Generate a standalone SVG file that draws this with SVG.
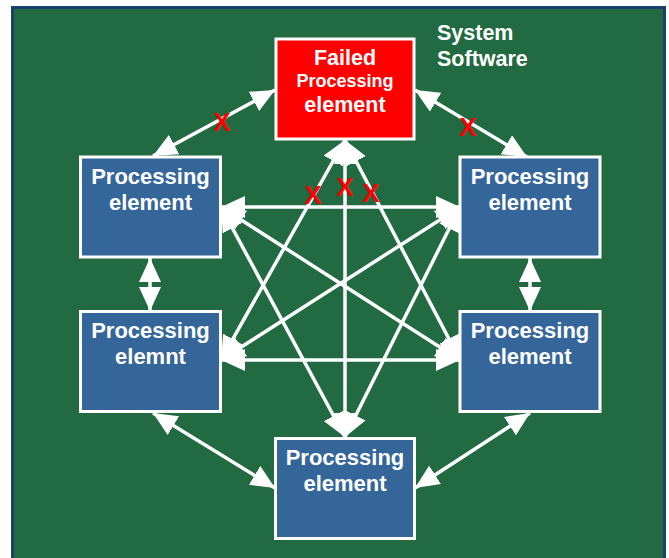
<svg xmlns="http://www.w3.org/2000/svg" width="669" height="558" viewBox="0 0 669 558">
  <style>
    .frame { fill: #226b42; stroke: #1b3f6f; stroke-width: 3; }
    .box { fill: #346699; stroke: #ffffff; stroke-width: 3; }
    .failed { fill: #ff0000; stroke: #ffffff; stroke-width: 3; }
    .lbl { font-family: "Liberation Sans", Arial, sans-serif; font-weight: bold; font-size: 22px; fill: #ffffff; text-anchor: middle; }
    .big { font-size: 21.5px; }
    .small { font-size: 18px; }
    .title { font-family: "Liberation Sans", Arial, sans-serif; font-weight: bold; font-size: 21.5px; fill: #ffffff; }
    .link { stroke: #ffffff; stroke-width: 3.5; fill: none; marker-start: url(#head); marker-end: url(#head); }
    .cut { font-family: "Liberation Sans", Arial, sans-serif; font-weight: bold; font-size: 26px; fill: #ff0000; text-anchor: middle; }
  </style>
  <defs>
    <marker id="head" viewBox="0 0 24 22" refX="24" refY="11" markerWidth="24" markerHeight="22" markerUnits="userSpaceOnUse" orient="auto-start-reverse">
      <path d="M0,0 L24,11 L0,22 Z" fill="#ffffff"/>
    </marker>
  </defs>

  <!-- background panel -->
  <rect class="frame" x="12.5" y="7.5" width="652" height="560"/>

  <text class="title" x="437" y="40">System</text>
  <text class="title" x="437" y="66">Software</text>

  <!-- connectors -->
  <g id="connectors">
    <!-- outer ring -->
    <line class="link" x1="153" y1="156" x2="275" y2="90"/>
    <line class="link" x1="415" y1="90" x2="527" y2="157"/>
    <line class="link" x1="150" y1="258" x2="150" y2="311"/>
    <line class="link" x1="530" y1="258" x2="530" y2="311"/>
    <line class="link" x1="153" y1="413" x2="275" y2="488"/>
    <line class="link" x1="530" y1="413" x2="415" y2="488"/>
    <!-- inner mesh -->
    <line class="link" x1="221" y1="207" x2="460" y2="207"/>
    <line class="link" x1="221" y1="360" x2="460" y2="360"/>
    <line class="link" x1="345" y1="140" x2="345" y2="437"/>
    <line class="link" x1="345" y1="140" x2="221" y2="360"/>
    <line class="link" x1="345" y1="140" x2="460" y2="360"/>
    <line class="link" x1="345" y1="437" x2="221" y2="207"/>
    <line class="link" x1="345" y1="437" x2="460" y2="207"/>
    <line class="link" x1="221" y1="207" x2="460" y2="360"/>
    <line class="link" x1="460" y1="207" x2="221" y2="360"/>
  </g>

  <!-- broken links -->
  <g id="cuts">
    <text class="cut" x="222" y="131">X</text>
    <text class="cut" x="468" y="136">X</text>
    <text class="cut" x="313" y="204">X</text>
    <text class="cut" x="345" y="196">X</text>
    <text class="cut" x="371" y="202">X</text>
  </g>

  <g id="pe-failed">
    <rect class="failed" x="276" y="39" width="138" height="100"/>
    <text class="lbl big" x="345" y="65">Failed</text>
    <text class="lbl small" x="345" y="87">Processing</text>
    <text class="lbl big" x="345" y="112">element</text>
  </g>

  <g id="pe-top-left">
    <rect class="box" x="80.5" y="157" width="140" height="100"/>
    <text class="lbl" x="150.5" y="184">Processing</text>
    <text class="lbl" x="150.5" y="210">element</text>
  </g>

  <g id="pe-top-right">
    <rect class="box" x="460" y="157" width="140" height="100"/>
    <text class="lbl" x="530" y="184">Processing</text>
    <text class="lbl" x="530" y="210">element</text>
  </g>

  <g id="pe-mid-left">
    <rect class="box" x="80.5" y="311.5" width="140" height="100"/>
    <text class="lbl" x="150.5" y="338">Processing</text>
    <text class="lbl" x="150.5" y="364">elemnt</text>
  </g>

  <g id="pe-mid-right">
    <rect class="box" x="460" y="311.5" width="140" height="100"/>
    <text class="lbl" x="530" y="338">Processing</text>
    <text class="lbl" x="530" y="364">element</text>
  </g>

  <g id="pe-bottom">
    <rect class="box" x="275.5" y="438.5" width="139" height="100"/>
    <text class="lbl" x="345" y="465">Processing</text>
    <text class="lbl" x="345" y="491">element</text>
  </g>
</svg>
